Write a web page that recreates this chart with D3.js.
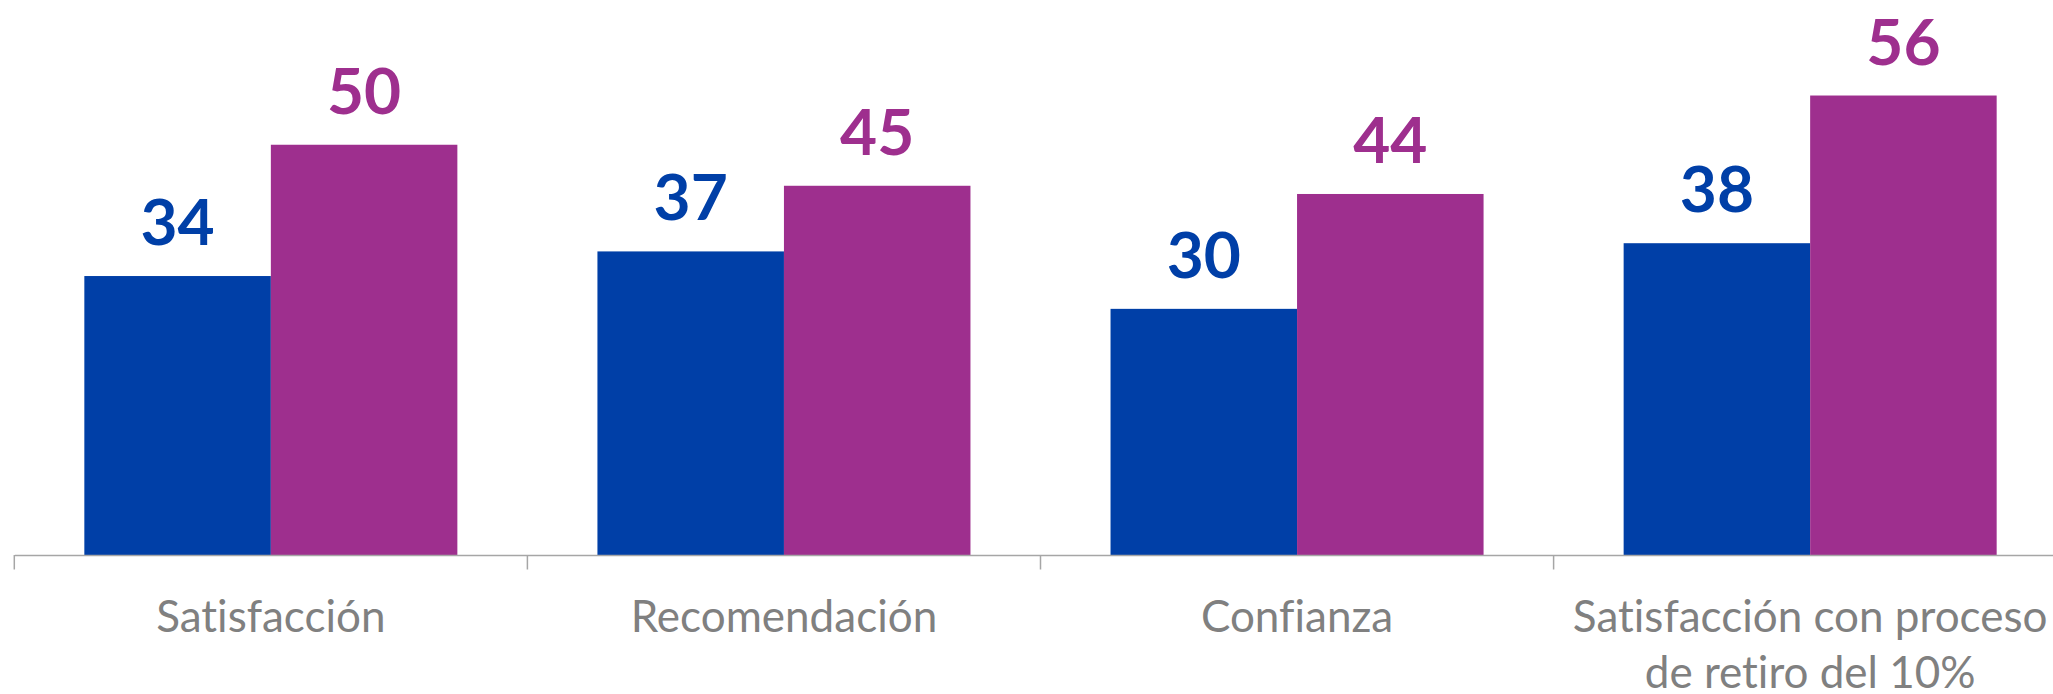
<!DOCTYPE html>
<html>
<head>
<meta charset="utf-8">
<script src="https://cdn.jsdelivr.net/npm/d3@7"></script>
<style>
  body { margin: 0; background: #fff; }
  svg { display: block; }
  text { font-variant-ligatures: none; }
</style>
</head>
<body>
<div class="barchart"></div>
<script>
const categories = ["Satisfacción", "Recomendación", "Confianza", "Satisfacción con proceso de retiro del 10%"];
const labelLines = [["Satisfacción"], ["Recomendación"], ["Confianza"], ["Satisfacción con proceso", "de retiro del 10%"]];
const seriesNames = ["Serie 1", "Serie 2"];
const serie1 = [34, 37, 30, 38];
const serie2 = [50, 45, 44, 56];

const width = 2053, height = 694;
const colors = ["#003fa7", "#9e2f8e"];

const data = categories.map((c, i) => ({ cat: c, values: [serie1[i], serie2[i]] }));

const svg = d3.select(".barchart")
    .append("svg")
    .attr("width", width)
    .attr("height", height);

// band is ~513px wide, starts at x=14, runs past the right edge like the original
const x = d3.scaleBand()
    .domain(categories)
    .range([14.3, 14.3 + 4 * 513.1])
    .padding(0);

const x1 = d3.scaleBand()
    .domain(seriesNames)
    .range([0, x.bandwidth()])
    .paddingInner(0)
    .paddingOuter(0.3755);

const y = d3.scaleLinear()
    .domain([0, 60])
    .range([555, 555 - 60 * 8.205]);

const groups = svg.append("g")
    .selectAll("g")
    .data(data)
    .join("g")
    .attr("transform", d => `translate(${x(d.cat)},0)`);

groups.selectAll("rect")
    .data(d => d.values.map((v, j) => ({ key: seriesNames[j], v, j })))
    .join("rect")
    .attr("x", d => x1(d.key))
    .attr("y", d => y(d.v))
    .attr("width", x1.bandwidth())
    .attr("height", d => y(0) - y(d.v))
    .attr("fill", d => colors[d.j]);

groups.selectAll("text.value")
    .data(d => d.values.map((v, j) => ({ key: seriesNames[j], v, j })))
    .join("text")
    .attr("class", "value")
    .attr("x", d => x1(d.key) + x1.bandwidth() / 2)
    .attr("y", d => y(d.v) - 31)
    .attr("text-anchor", "middle")
    .attr("font-family", "Lato, 'Open Sans', sans-serif")
    .attr("font-weight", "bold")
    .attr("font-size", 64)
    .attr("fill", d => colors[d.j])
    .text(d => d.v);

// axis line
svg.append("g")
    .attr("transform", `translate(0,${y(0)})`)
    .call(d3.axisBottom(x).tickSize(0).tickFormat(""))
    .call(g => g.select(".domain").attr("stroke", "#a6a6a6").attr("stroke-width", 1.5));

// tick marks sit on the band edges
svg.append("g")
    .selectAll("line")
    .data(categories)
    .join("line")
    .attr("x1", d => x(d))
    .attr("x2", d => x(d))
    .attr("y1", y(0))
    .attr("y2", y(0) + 14.5)
    .attr("stroke", "#a6a6a6")
    .attr("stroke-width", 1.5);

svg.append("g")
    .attr("font-family", "Lato, 'Open Sans', sans-serif")
    .attr("font-size", 44)
    .attr("fill", "#808080")
    .attr("text-anchor", "middle")
    .selectAll("text")
    .data(categories)
    .join("text")
    .attr("transform", d => `translate(${x(d) + x.bandwidth() / 2},631.7)`)
    .selectAll("tspan")
    .data((d, i) => labelLines[i])
    .join("tspan")
    .attr("x", 0)
    .attr("y", (d, i) => i * 56)
    .text(d => d);
</script>
</body>
</html>
